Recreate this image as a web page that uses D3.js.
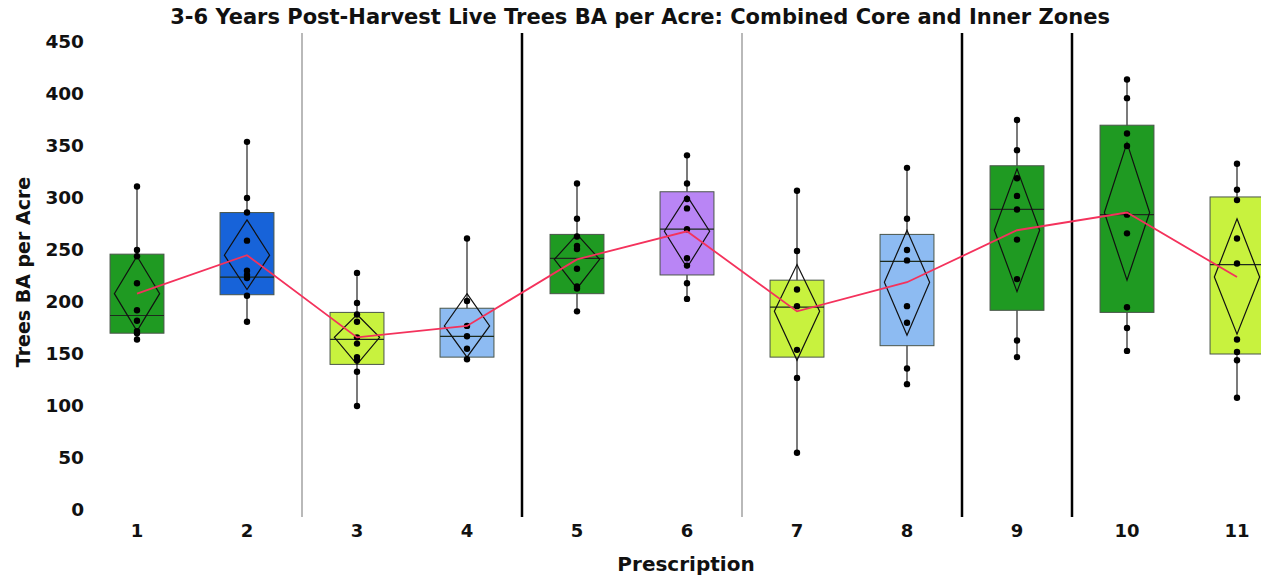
<!DOCTYPE html>
<html>
<head>
<meta charset="utf-8">
<script src="https://cdn.jsdelivr.net/npm/d3@7"></script>
<style>
  body { margin: 0; background: #fff; }
  text { font-family: "DejaVu Sans", sans-serif; font-weight: 700; fill: #111; }
</style>
</head>
<body>
<svg id="chart" width="1261" height="581"></svg>
<script>
// ------------------------------------------------------------
//  Data
// ------------------------------------------------------------
const prescriptions = ['1', '2', '3', '4', '5', '6', '7', '8', '9', '10', '11'];
const yTicks = [0, 50, 100, 150, 200, 250, 300, 350, 400, 450];

// individual observations per prescription
const points = [
  [311, 250, 244, 218, 192, 182, 172, 170, 164],
  [354, 300, 286, 259, 230, 226, 223, 206, 181],
  [228, 199, 188, 181, 166, 160, 147, 144, 133, 100],
  [261, 201, 177, 167, 155, 145],
  [314, 280, 263, 254, 251, 232, 215, 213, 191],
  [341, 314, 299, 290, 270, 242, 235, 218, 203],
  [307, 249, 212, 196, 154, 127, 55],
  [329, 280, 250, 240, 196, 180, 136, 121],
  [375, 346, 319, 302, 289, 260, 222, 163, 147],
  [414, 396, 362, 350, 284, 266, 195, 175, 153],
  [333, 308, 298, 261, 237, 164, 152, 144, 108]
];
const q1s     = [170, 207, 140, 147, 208, 226, 147, 158, 192, 190, 150];
const medians = [187, 224, 164, 167, 242, 270, 195, 239, 289, 284, 236];
const q3s     = [246, 286, 190, 194, 265, 306, 221, 265, 331, 370, 301];
const means   = [208, 245, 166, 177, 241, 268, 191, 219, 269, 286, 224];
const ciLow   = [172, 212, 140, 147, 213, 233, 144, 168, 210, 221, 169];
const ciHigh  = [244, 279, 188, 208, 265, 302, 236, 269, 328, 353, 280];
const boxColors = ['#1f9a22', '#1763d9', '#c8f23e', '#8dbbf2', '#1f9a22', '#b985f5',
                   '#c8f23e', '#8dbbf2', '#1f9a22', '#1f9a22', '#c8f23e'];

// group dividers: after which prescription, and whether heavy
const dividers = [
  { after: '2', heavy: false },
  { after: '4', heavy: true },
  { after: '6', heavy: false },
  { after: '8', heavy: true },
  { after: '9', heavy: true }
];

// ------------------------------------------------------------
//  Scales
// ------------------------------------------------------------
const svg = d3.select('#chart');

const x = d3.scaleBand()
  .domain(prescriptions)
  .range([82, 1292])
  .paddingInner(0.51)
  .paddingOuter(0.255);

const y = d3.scaleLinear().domain([0, 450]).range([510, 42]);

const bw = x.bandwidth();
const cx = p => x(p) + bw / 2;
const stepGap = (x.step() - bw) / 2;

// ------------------------------------------------------------
//  Dividers
// ------------------------------------------------------------
svg.append('g').selectAll('line')
  .data(dividers)
  .join('line')
  .attr('x1', d => x(d.after) + bw + stepGap)
  .attr('x2', d => x(d.after) + bw + stepGap)
  .attr('y1', 33)
  .attr('y2', 517)
  .attr('stroke', d => d.heavy ? '#000' : '#8a8a8a')
  .attr('stroke-width', d => d.heavy ? 2.5 : 1.2);

// ------------------------------------------------------------
//  Boxes
// ------------------------------------------------------------
const groups = prescriptions.map((p, i) => ({
  p, pts: points[i], q1: q1s[i], med: medians[i], q3: q3s[i],
  mean: means[i], lo: ciLow[i], hi: ciHigh[i], color: boxColors[i]
}));

const g = svg.append('g').selectAll('g.box')
  .data(groups)
  .join('g')
  .attr('class', 'box');

// whiskers (full extent of observations)
g.append('line')
  .attr('x1', d => cx(d.p)).attr('x2', d => cx(d.p))
  .attr('y1', d => y(d3.max(d.pts))).attr('y2', d => y(d3.min(d.pts)))
  .attr('stroke', '#333').attr('stroke-width', 1.3);

g.append('rect')
  .attr('x', d => x(d.p))
  .attr('width', bw)
  .attr('y', d => y(d.q3))
  .attr('height', d => y(d.q1) - y(d.q3))
  .attr('fill', d => d.color)
  .attr('stroke', '#4a554a')
  .attr('stroke-width', 1);

g.append('line')
  .attr('x1', d => x(d.p)).attr('x2', d => x(d.p) + bw)
  .attr('y1', d => y(d.med)).attr('y2', d => y(d.med))
  .attr('stroke', '#1d2b1d').attr('stroke-width', 1.2);

// mean confidence diamond
const dHalf = bw * 0.42;
g.append('path')
  .attr('d', d => {
    const c = cx(d.p);
    return `M${c},${y(d.hi)}L${c + dHalf},${y(d.mean)}L${c},${y(d.lo)}L${c - dHalf},${y(d.mean)}Z`;
  })
  .attr('fill', 'none')
  .attr('stroke', '#111')
  .attr('stroke-width', 1.2);

// observations
g.selectAll('circle')
  .data(d => d.pts.map(v => ({ p: d.p, v })))
  .join('circle')
  .attr('cx', d => cx(d.p))
  .attr('cy', d => y(d.v))
  .attr('r', 3.2)
  .attr('fill', '#000');

// ------------------------------------------------------------
//  Mean connect line
// ------------------------------------------------------------
svg.append('path')
  .datum(groups)
  .attr('fill', 'none')
  .attr('stroke', '#f4325c')
  .attr('stroke-width', 1.8)
  .attr('d', d3.line().x(d => cx(d.p)).y(d => y(d.mean)));

// ------------------------------------------------------------
//  Axes (labels only)
// ------------------------------------------------------------
const yAxis = svg.append('g')
  .attr('transform', 'translate(84,0)')
  .call(d3.axisLeft(y).tickValues(yTicks).tickSize(0).tickPadding(0));
yAxis.select('.domain').remove();
yAxis.selectAll('text')
  .attr('font-size', 18.5)
  .attr('font-family', '"DejaVu Sans", sans-serif')
  .attr('font-weight', 700)
  .attr('fill', '#111');

const xAxis = svg.append('g')
  .attr('transform', 'translate(0,524)')
  .call(d3.axisBottom(x).tickSize(0).tickPadding(0));
xAxis.select('.domain').remove();
xAxis.selectAll('text')
  .attr('font-size', 18)
  .attr('font-family', '"DejaVu Sans", sans-serif')
  .attr('font-weight', 700)
  .attr('fill', '#111');

svg.append('text')
  .attr('x', 686).attr('y', 571)
  .attr('text-anchor', 'middle')
  .attr('font-size', 20)
  .text('Prescription');

svg.append('text')
  .attr('transform', 'translate(30,272) rotate(-90)')
  .attr('text-anchor', 'middle')
  .attr('font-size', 19)
  .text('Trees BA per Acre');

svg.append('text')
  .attr('x', 640).attr('y', 24)
  .attr('text-anchor', 'middle')
  .attr('font-size', 21)
  .text('3-6 Years Post-Harvest Live Trees BA per Acre: Combined Core and Inner Zones');
</script>
</body>
</html>
